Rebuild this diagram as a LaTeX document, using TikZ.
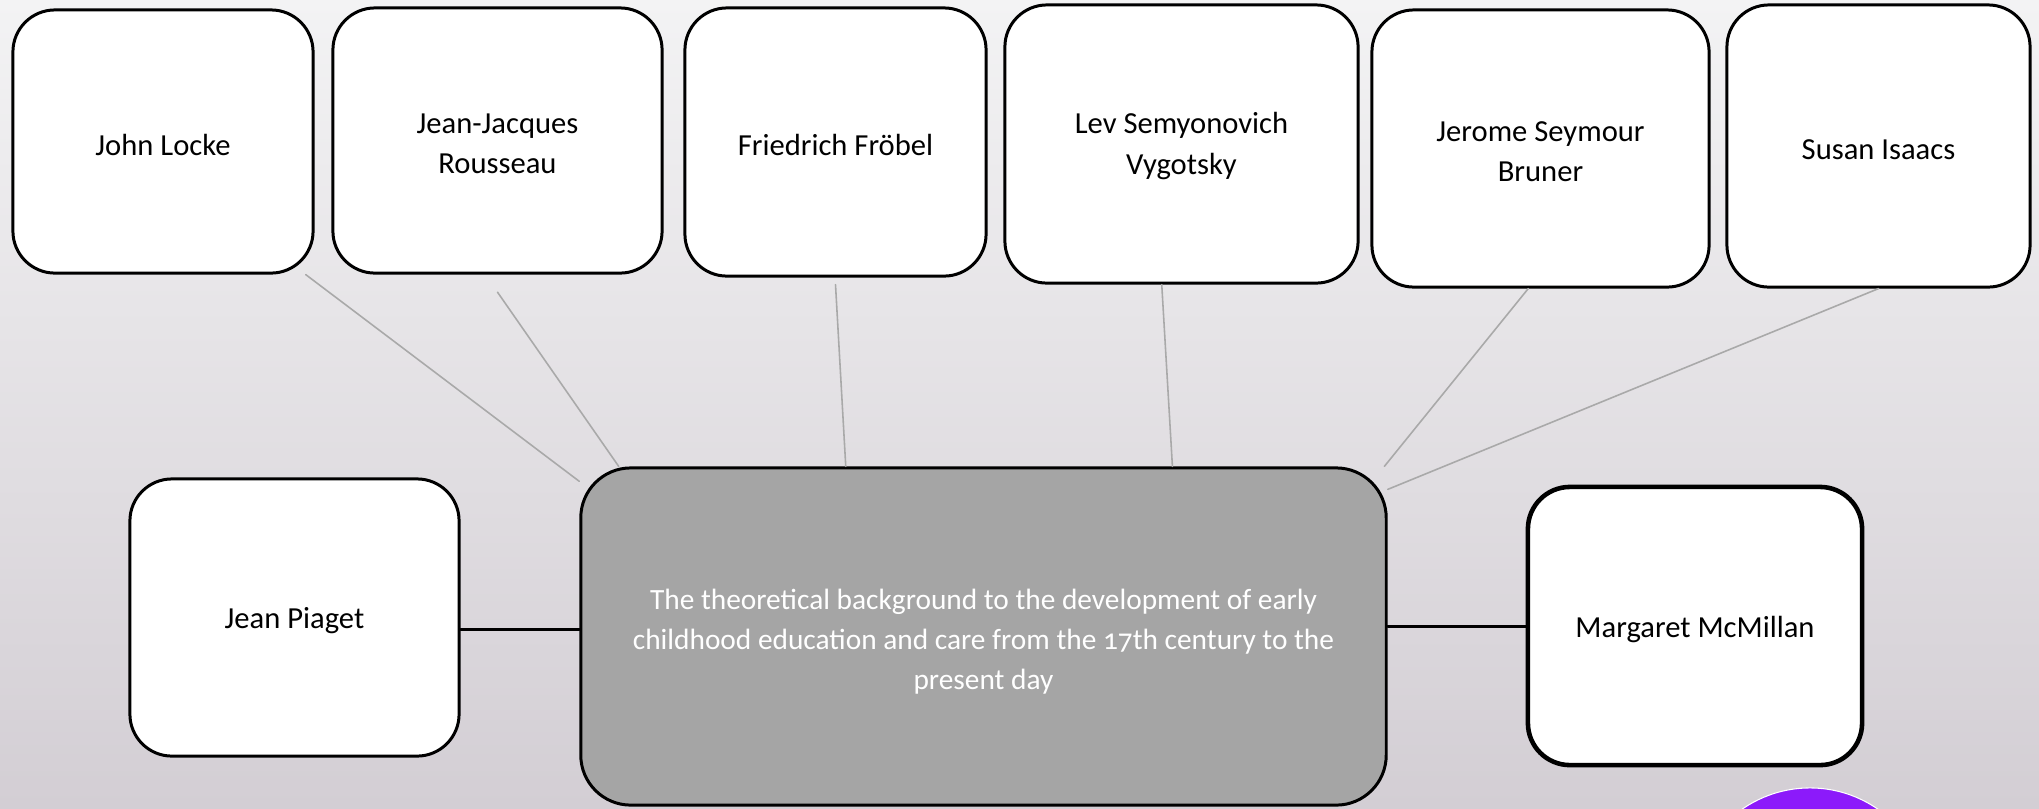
\documentclass[tikz,border=0pt]{standalone}
\usepackage{fontspec}
\setmainfont[Numbers=OldStyle]{Carlito}
\definecolor{bgtop}{HTML}{F3F3F4}
\definecolor{bgbot}{HTML}{D3CED4}
\definecolor{hubgray}{HTML}{A5A5A5}
\definecolor{spokegray}{HTML}{A9A9A9}
\definecolor{dotpurple}{HTML}{8C1AFA}
\begin{document}
\begin{tikzpicture}[line cap=round,line join=round,x=0.01cm,y=-0.01cm,
  person/.style={draw=black,line width=0.85pt,fill=white,rounded corners=0.42cm,align=center,inner sep=0pt,text height=7.9pt,font=\fontsize{8.7}{11.4}\selectfont},
  twolines/.style={text height=18.6pt},
  spoke/.style={draw=spokegray,line width=0.45pt},
  joint/.style={draw=black,line width=0.85pt}]
\clip (0,0) rectangle (2039,808);
\shade [top color=bgtop,bottom color=bgbot] (0,0) rectangle (2039,808);
\fill [dotpurple,draw=white,line width=0.3pt] (1810,907) circle (1.19cm);
\node [person,minimum width=3cm,minimum height=2.63cm] (locke) at (163,141.5) {John Locke};
\node [person,twolines,minimum width=3.29cm,minimum height=2.65cm] (rousseau) at (497.5,140.5) {Jean-Jacques\\Rousseau};
\node [person,minimum width=3.01cm,minimum height=2.68cm] (froebel) at (835.5,142) {Friedrich Fröbel};
\node [person,twolines,minimum width=3.53cm,minimum height=2.78cm] (vygotsky) at (1181.5,144) {Lev Semyonovich\\Vygotsky};
\node [person,twolines,minimum width=3.37cm,minimum height=2.77cm] (bruner) at (1540.5,148.5) {Jerome Seymour\\Bruner};
\node [person,minimum width=3.03cm,minimum height=2.82cm] (isaacs) at (1878.5,146) {Susan Isaacs};
\node [person,minimum width=3.29cm,minimum height=2.77cm] (piaget) at (294.5,617.5) {Jean Piaget};
\node [person,fill=hubgray,text=white,rounded corners=0.5cm,minimum width=8.05cm,minimum height=3.37cm,text height=31.5pt,font=\fontsize{8.35}{11.4}\selectfont] (theory) at (983.5,636.5) {The theoretical background to the development of early\\childhood education and care from the 17th century to the\\present day};
\node [person,line width=1.3pt,minimum width=3.34cm,minimum height=2.78cm] (mcmillan) at (1695,626) {Margaret McMillan};
\draw [spoke] (locke.-43.8) -- (theory.159.9);
\draw [spoke] ([yshift=-5]rousseau.south) -- (theory.155.9);
\draw [spoke] ([yshift=-2]froebel.south) -- (theory.129.8);
\draw [spoke] (vygotsky.262.4) -- (theory.42.9);
\draw [spoke] (bruner.265.3) -- (theory.23.6);
\draw [spoke] (isaacs.south) -- (theory.20);
\draw [joint] (piaget.-4) -- (piaget.-4 -| theory.west);
\draw [joint] (theory.east |- mcmillan.west) -- (mcmillan.west);
\end{tikzpicture}
\end{document}
